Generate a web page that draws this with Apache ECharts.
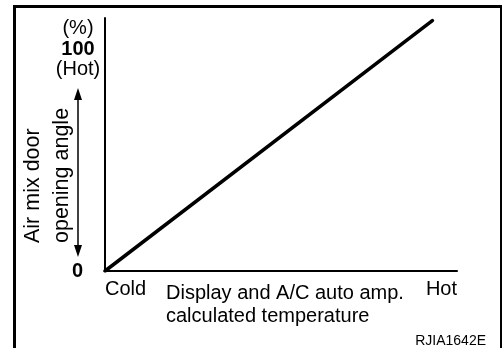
<!DOCTYPE html>
<html><head><meta charset="utf-8">
<script src="https://cdn.jsdelivr.net/npm/echarts@6/dist/echarts.min.js"></script>
<style>html,body{margin:0;padding:0;background:#fff}#c{width:503px;height:348px}</style>
</head><body><div id="c"></div>
<script>
// Data
var xRange = [0, 100];            // Cold .. Hot
var xTickLabels = ['Cold', 'Hot'];
var yRange = [0, 100];
var lineX = [0, 93];
var lineY = [0, 99];
var yTopLabels = ['(%)', '100', '(Hot)'];
var yZeroLabel = '0';
var yTitle = ['Air mix door', 'opening angle'];
var xTitle = ['Display and A/C auto amp.', 'calculated temperature'];
var figCode = 'RJIA1642E';

var F = 'Liberation Sans, Arial, Helvetica, sans-serif';
var chart = echarts.init(document.getElementById('c'), null, {renderer: 'canvas'});
var pts = lineX.map(function (x, i) { return [x, lineY[i]]; });

chart.setOption({
  animation: false,
  grid: {left: 105, right: 46, top: 18, bottom: 77},
  xAxis: {
    type: 'value', min: xRange[0], max: xRange[1], interval: 100,
    axisLine: {show: true, lineStyle: {color: '#000', width: 2}},
    axisTick: {show: false}, splitLine: {show: false},
    axisLabel: {
      color: '#000', fontFamily: F, fontSize: 20, margin: 8,
      alignMinLabel: 'left', alignMaxLabel: 'right',
      formatter: function (v) { return v === xRange[0] ? xTickLabels[0] : (v === xRange[1] ? xTickLabels[1] : ''); }
    }
  },
  yAxis: {
    type: 'value', min: yRange[0], max: yRange[1], interval: 100,
    axisLine: {show: true, lineStyle: {color: '#000', width: 2}},
    axisTick: {show: false}, splitLine: {show: false},
    axisLabel: {
      color: '#000', fontFamily: F, fontSize: 20, fontWeight: 'bold', margin: 22,
      formatter: function (v) { return v === yRange[0] ? yZeroLabel : ''; }
    }
  },
  series: [{
    type: 'line', data: pts, symbol: 'none',
    lineStyle: {color: '#000', width: 3.5, cap: 'round'}
  }],
  graphic: [
    // frame
    {type: 'rect', shape: {x: 13, y: 5, width: 3, height: 343}, style: {fill: '#000'}},
    {type: 'rect', shape: {x: 13, y: 5, width: 489, height: 3}, style: {fill: '#000'}},
    {type: 'rect', shape: {x: 500, y: 5, width: 2, height: 343}, style: {fill: '#000'}},
    // top-left y labels
    {type: 'text', x: 78, y: 28, style: {text: yTopLabels[0], font: '20px ' + F, fill: '#000', textAlign: 'center', textVerticalAlign: 'middle'}},
    {type: 'text', x: 78, y: 49, style: {text: yTopLabels[1], font: 'bold 20px ' + F, fill: '#000', textAlign: 'center', textVerticalAlign: 'middle'}},
    {type: 'text', x: 78, y: 69, style: {text: yTopLabels[2], font: '20px ' + F, fill: '#000', textAlign: 'center', textVerticalAlign: 'middle'}},
    // double arrow
    {type: 'line', shape: {x1: 78, y1: 94, x2: 78, y2: 251}, style: {stroke: '#000', lineWidth: 1.5}},
    {type: 'polygon', shape: {points: [[78, 88], [74, 100], [82, 100]]}, style: {fill: '#000'}},
    {type: 'polygon', shape: {points: [[78, 257], [74, 245], [82, 245]]}, style: {fill: '#000'}},
    // y title
    {type: 'text', x: 33, y: 243, rotation: Math.PI / 2, style: {text: yTitle[0], font: '21.5px ' + F, fill: '#000', textAlign: 'left', textVerticalAlign: 'middle'}},
    {type: 'text', x: 62, y: 243, rotation: Math.PI / 2, style: {text: yTitle[1], font: '21.5px ' + F, fill: '#000', textAlign: 'left', textVerticalAlign: 'middle'}},
    // x title
    {type: 'text', x: 166, y: 293, style: {text: xTitle[0], font: '20px ' + F, fill: '#000', textAlign: 'left', textVerticalAlign: 'middle'}},
    {type: 'text', x: 166, y: 316, style: {text: xTitle[1], font: '20px ' + F, fill: '#000', textAlign: 'left', textVerticalAlign: 'middle'}},
    // figure code
    {type: 'text', x: 486, y: 341, style: {text: figCode, font: '14px ' + F, fill: '#000', textAlign: 'right', textVerticalAlign: 'middle'}}
  ]
});
</script></body></html>
